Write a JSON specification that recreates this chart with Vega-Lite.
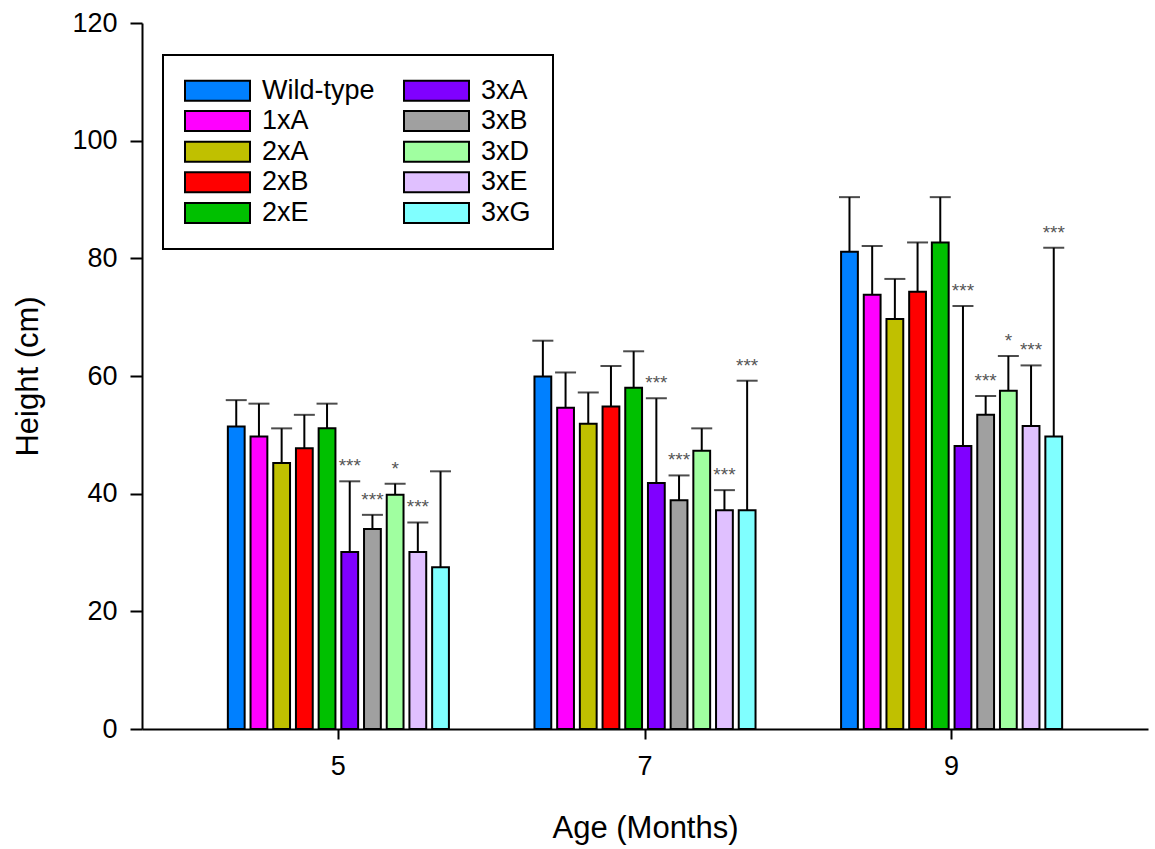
{
  "$schema": "https://vega.github.io/schema/vega-lite/v6.json",
  "width": 1006,
  "height": 706,
  "autosize": {"type": "none"},
  "padding": {"left": 142, "top": 23, "right": 7, "bottom": 120},
  "background": "white",
  "config": {
    "view": {"stroke": null},
    "font": "Liberation Sans",
    "axis": {
      "domainColor": "black", "domainWidth": 2, "tickColor": "black", "tickWidth": 2,
      "labelColor": "black", "labelFont": "Liberation Sans", "labelFontSize": 27,
      "titleColor": "black", "titleFont": "Liberation Sans", "titleFontSize": 31, "titleFontWeight": "normal",
      "grid": false
    }
  },
  "data": {"values": [
    {"age": "5", "group": "Wild-type", "mean": 51.4, "upper": 55.9, "sig": ""},
    {"age": "5", "group": "1xA", "mean": 49.7, "upper": 55.3, "sig": ""},
    {"age": "5", "group": "2xA", "mean": 45.2, "upper": 51.1, "sig": ""},
    {"age": "5", "group": "2xB", "mean": 47.7, "upper": 53.4, "sig": ""},
    {"age": "5", "group": "2xE", "mean": 51.1, "upper": 55.3, "sig": ""},
    {"age": "5", "group": "3xA", "mean": 30.1, "upper": 42.1, "sig": "***"},
    {"age": "5", "group": "3xB", "mean": 34.0, "upper": 36.4, "sig": "***"},
    {"age": "5", "group": "3xD", "mean": 39.8, "upper": 41.7, "sig": "*"},
    {"age": "5", "group": "3xE", "mean": 30.1, "upper": 35.1, "sig": "***"},
    {"age": "5", "group": "3xG", "mean": 27.5, "upper": 43.8, "sig": ""},
    {"age": "7", "group": "Wild-type", "mean": 59.9, "upper": 66.0, "sig": ""},
    {"age": "7", "group": "1xA", "mean": 54.6, "upper": 60.6, "sig": ""},
    {"age": "7", "group": "2xA", "mean": 51.9, "upper": 57.2, "sig": ""},
    {"age": "7", "group": "2xB", "mean": 54.8, "upper": 61.7, "sig": ""},
    {"age": "7", "group": "2xE", "mean": 58.0, "upper": 64.2, "sig": ""},
    {"age": "7", "group": "3xA", "mean": 41.8, "upper": 56.2, "sig": "***"},
    {"age": "7", "group": "3xB", "mean": 38.9, "upper": 43.1, "sig": "***"},
    {"age": "7", "group": "3xD", "mean": 47.3, "upper": 51.1, "sig": ""},
    {"age": "7", "group": "3xE", "mean": 37.2, "upper": 40.6, "sig": "***"},
    {"age": "7", "group": "3xG", "mean": 37.2, "upper": 59.2, "sig": "***"},
    {"age": "9", "group": "Wild-type", "mean": 81.1, "upper": 90.4, "sig": ""},
    {"age": "9", "group": "1xA", "mean": 73.8, "upper": 82.1, "sig": ""},
    {"age": "9", "group": "2xA", "mean": 69.7, "upper": 76.5, "sig": ""},
    {"age": "9", "group": "2xB", "mean": 74.3, "upper": 82.7, "sig": ""},
    {"age": "9", "group": "2xE", "mean": 82.7, "upper": 90.4, "sig": ""},
    {"age": "9", "group": "3xA", "mean": 48.1, "upper": 71.9, "sig": "***"},
    {"age": "9", "group": "3xB", "mean": 53.4, "upper": 56.6, "sig": "***"},
    {"age": "9", "group": "3xD", "mean": 57.5, "upper": 63.4, "sig": "*"},
    {"age": "9", "group": "3xE", "mean": 51.5, "upper": 61.8, "sig": "***"},
    {"age": "9", "group": "3xG", "mean": 49.7, "upper": 81.8, "sig": "***"}
  ]},
  "encoding": {
    "x": {
      "field": "age", "type": "nominal", "sort": ["5", "7", "9"],
      "scale": {"paddingInner": 0.279, "paddingOuter": 0.28},
      "axis": {"title": "Age (Months)", "labelAngle": 0, "tickSize": 10, "labelPadding": 14, "titlePadding": 34}
    },
    "xOffset": {
      "field": "group", "type": "nominal",
      "sort": ["Wild-type", "1xA", "2xA", "2xB", "2xE", "3xA", "3xB", "3xD", "3xE", "3xG"],
      "scale": {"paddingInner": 0.26, "paddingOuter": 0}
    }
  },
  "layer": [
    {
      "mark": {"type": "bar", "stroke": "black", "strokeWidth": 2},
      "encoding": {
        "y": {
          "field": "mean", "type": "quantitative",
          "scale": {"domain": [0, 120], "nice": false},
          "axis": {"title": "Height (cm)", "values": [0, 20, 40, 60, 80, 100, 120], "tickSize": 12, "labelPadding": 13, "titlePadding": 27}
        },
        "color": {
          "field": "group", "type": "nominal",
          "scale": {
            "domain": ["Wild-type", "1xA", "2xA", "2xB", "2xE", "3xA", "3xB", "3xD", "3xE", "3xG"],
            "range": ["#0080ff", "#ff00ff", "#c0c000", "#ff0000", "#00c000", "#8000ff", "#a0a0a0", "#a0ffa0", "#e0c0ff", "#80ffff"]
          },
          "legend": {
            "orient": "none", "legendX": 21, "legendY": 32, "columns": 2, "direction": "vertical",
            "title": null,
            "symbolType": "M-3.25,-1H3.25V1H-3.25Z", "symbolSize": 400,
            "symbolStrokeColor": "black", "symbolStrokeWidth": 2, "symbolOpacity": 1,
            "symbolOffset": 19, "labelOffset": 31,
            "labelFontSize": 27, "labelColor": "black", "labelFont": "Liberation Sans", "labelLimit": 300,
            "columnPadding": 25, "rowPadding": 1.6, "padding": 22,
            "strokeColor": "black", "fillColor": "white",
            "encode": {"legend": {"update": {"strokeWidth": {"value": 2}}}}
          }
        }
      }
    },
    {
      "mark": {"type": "rule", "strokeWidth": 2, "color": "black"},
      "encoding": {
        "y": {"field": "mean", "type": "quantitative"},
        "y2": {"field": "upper"}
      }
    },
    {
      "mark": {"type": "tick", "size": 21, "thickness": 2, "color": "black"},
      "encoding": {"y": {"field": "upper", "type": "quantitative"}}
    },
    {
      "mark": {"type": "text", "dy": -15, "fontSize": 19, "color": "#555555", "baseline": "middle"},
      "encoding": {
        "y": {"field": "upper", "type": "quantitative"},
        "text": {"field": "sig"}
      }
    }
  ]
}
